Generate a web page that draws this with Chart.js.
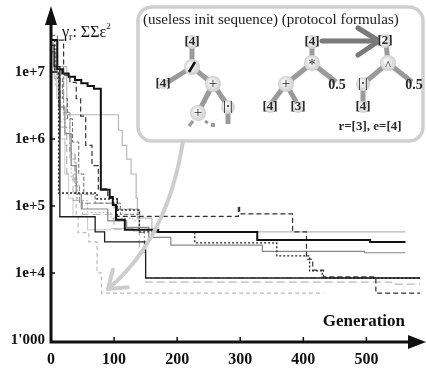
<!DOCTYPE html>
<html>
<head>
<meta charset="utf-8">
<script src="https://cdn.jsdelivr.net/npm/chart.js@4.4.1/dist/chart.umd.min.js"></script>
<style>
  html, body { margin: 0; padding: 0; background: #fff; }
  #c { display: block; }
</style>
</head>
<body>
<canvas id="c" width="426" height="370"></canvas>
<script>
// axis ticks
const generationTicks = [0, 100, 200, 300, 400, 500];
const errorTicks = [1e3, 1e4, 1e5, 1e6, 1e7];
const errorTickLabels = ["1'000", '1e+4', '1e+5', '1e+6', '1e+7'];

// runs: [generation, best fitness] – value changes at that generation
const runBlackThick = [[0, 3e7], [10, 1.1e7], [18, 9.5e6], [28, 8.5e6], [38, 7.6e6], [48, 6.8e6], [58, 6.2e6], [68, 5.6e6], [79, 1.75e5], [93, 1.36e5], [98, 1.03e5], [103, 6.2e4], [117, 4.4e4], [170, 4.1e4], [327, 3.1e4], [506, 2.9e4], [562, 2.9e4]];
const runBlack = [[0, 2.5e7], [5, 1.2e7], [14, 6.9e4], [70, 4.1e4], [85, 2.9e4], [130, 2.9e4], [149, 2.2e4], [150, 8.4e3], [585, 8.4e3]];
const runDotted = [[0, 3e7], [6, 1e7], [12, 1.56e5], [73, 1.27e5], [105, 8.7e4], [140, 4.1e4], [228, 2.8e4], [358, 1.8e4], [410, 1.07e4], [430, 8.4e3], [585, 8.4e3]];
const runDashed = [[0, 3e7], [20, 9e6], [30, 7e6], [40, 4e6], [47, 2.2e6], [55, 8e5], [65, 4e5], [75, 1.8e5], [90, 1.3e5], [105, 7e4], [297, 1.0e5], [299, 7.6e4], [383, 4.1e4], [405, 1.6e4], [415, 1.1e4], [432, 8.7e3], [515, 5e3], [585, 5e3]];
const runGray = [[0, 2e7], [6, 1e7], [12, 3e6], [22, 1.2e6], [32, 4e5], [40, 1.5e5], [48, 9e4], [90, 6e4], [120, 4.8e4], [155, 3.4e4], [190, 2.6e4], [335, 2.1e4], [497, 2.0e4], [562, 2.0e4]];
const runDashDot = [[0, 2.5e7], [8, 1e7], [20, 2.5e6], [30, 6e5], [38, 2e5], [45, 1.1e5], [100, 9e4], [140, 4e4], [148, 2.2e4], [150, 8.4e3], [585, 8.4e3]];
const runDarkDashed = [[0, 3.5e7], [10, 8e6], [18, 4e6], [26, 2e6], [34, 9e5], [44, 3e5], [52, 1.5e5], [70, 1.1e5], [110, 7.5e4], [145, 7.5e4]];
const runLightSteps = [[0, 2e7], [10, 1.2e7], [25, 2.3e6], [107, 1.35e6], [113, 8e5], [120, 5e5], [127, 3e5], [135, 1.3e5], [137, 6.6e4], [160, 4.1e4], [562, 4.1e4]];
const runLightDashed = [[0, 3e7], [10, 9e6], [20, 2e6], [30, 5e5], [40, 6.9e4], [43, 4e4], [60, 2.9e4], [73, 1e4], [80, 5e3], [432, 5e3]];
const runLongDashed = [[0, 2e7], [5, 8e6], [15, 1.5e6], [25, 3e5], [35, 1.2e5], [50, 7.5e4], [100, 4.5e4], [140, 2e4], [150, 7.3e3], [520, 7.3e3], [540, 6.8e3], [585, 6.8e3]];
const runLight = [[0, 3e7], [4, 1.2e7], [9, 4e6], [15, 1e6], [22, 3e5], [28, 1.3e5], [35, 7e4], [58, 4.4e4], [95, 4.6e4], [130, 4.2e4], [140, 4.2e4]];
const runLightDotted = [[0, 2e7], [7, 6e6], [14, 1.8e6], [22, 8e5], [32, 2.5e5], [42, 1.2e5], [58, 8e4], [95, 6.5e4], [130, 6e4], [145, 6e4]];

const SERIF = '"Liberation Serif", "DejaVu Serif", serif';

function run(points, color, width, dash) {
  return {
    data: points.map(([g, v]) => ({ x: g, y: v })),
    borderColor: color,
    borderWidth: width,
    borderDash: dash,
    stepped: true,
    pointRadius: 0,
    fill: false
  };
}

// inset with the formula trees and the callout arrow
const decoPlugin = {
  id: 'deco',
  afterDatasetsDraw(chart) {
    const ctx = chart.ctx;
    const area = chart.chartArea;
    const xs = chart.scales.x, ys = chart.scales.y;
    ctx.save();

    // axes with arrows
    ctx.strokeStyle = '#111';
    ctx.fillStyle = '#111';
    ctx.lineWidth = 3;
    ctx.beginPath();
    ctx.moveTo(area.left, area.bottom + 1.5);
    ctx.lineTo(area.left, 20);
    ctx.moveTo(area.left - 1.5, area.bottom);
    ctx.lineTo(412, area.bottom);
    ctx.stroke();
    ctx.beginPath();
    ctx.moveTo(area.left, 6); ctx.lineTo(area.left - 6, 25); ctx.lineTo(area.left + 6, 25); ctx.closePath();
    ctx.fill();
    ctx.beginPath();
    ctx.moveTo(426, area.bottom); ctx.lineTo(408, area.bottom - 7); ctx.lineTo(408, area.bottom + 7); ctx.closePath();
    ctx.fill();
    ctx.lineWidth = 1.5;
    ctx.beginPath();
    generationTicks.slice(1).forEach(v => {
      const px = xs.getPixelForValue(v);
      ctx.moveTo(px, area.bottom); ctx.lineTo(px, area.bottom - 5);
    });
    errorTicks.slice(1).forEach(v => {
      const py = ys.getPixelForValue(v);
      ctx.moveTo(area.left, py); ctx.lineTo(area.left + 4, py);
    });
    ctx.stroke();

    // axis titles
    ctx.fillStyle = '#111';
    ctx.textBaseline = 'alphabetic';
    ctx.font = 'bold 17px ' + SERIF;
    ctx.textAlign = 'right';
    ctx.fillText('Generation', 405, 326);
    ctx.textAlign = 'left';
    let tx = 62;
    const part = (t, size, dy) => {
      ctx.font = size + 'px ' + SERIF;
      ctx.fillText(t, tx, 37 + dy);
      tx += ctx.measureText(t).width;
    };
    part('γ', 16, 0); part('r', 10, 3); part(': ΣΣε', 16, 0); part('2', 9, -8);

    // inset box
    const bx = 138, by = 7, bw = 285, bh = 134, r = 14;
    ctx.beginPath();
    ctx.roundRect(bx, by, bw, bh, r);
    ctx.fillStyle = '#fff';
    ctx.fill();
    ctx.lineWidth = 3.5;
    ctx.strokeStyle = '#cfcfcf';
    ctx.stroke();

    ctx.fillStyle = '#1a1a1a';
    ctx.font = '15px ' + SERIF;
    ctx.textAlign = 'left';
    ctx.fillText('(useless init sequence) (protocol formulas)', 143, 24, 278);

    const edge = (x1, y1, x2, y2) => {
      ctx.beginPath(); ctx.moveTo(x1, y1); ctx.lineTo(x2, y2); ctx.stroke();
    };
    ctx.strokeStyle = '#9a9a9a';
    ctx.lineWidth = 5;
    ctx.lineCap = 'butt';
    // left tree
    edge(192, 45, 192, 67); edge(192, 67, 165, 84); edge(192, 67, 213, 84);
    edge(213, 84, 198, 113); edge(213, 84, 228, 106); edge(228, 112, 228, 124);
    // middle tree
    edge(312, 42, 312, 63); edge(312, 63, 286, 84); edge(312, 63, 336, 82);
    edge(286, 84, 270, 105); edge(286, 84, 298, 105);
    // right tree
    edge(386, 42, 388, 63); edge(388, 63, 363, 84); edge(388, 63, 412, 82); edge(363, 84, 363, 104);
    // continuation marks
    ctx.lineWidth = 3;
    edge(193, 121, 189, 126); edge(205, 121, 208, 123);
    ctx.fillStyle = '#9a9a9a';
    ctx.fillRect(211, 123, 4, 4);

    // big arrow [4] -> [2]
    ctx.strokeStyle = '#7a7a7a';
    ctx.lineWidth = 5;
    ctx.lineCap = 'round';
    edge(322, 41, 377, 41); edge(358, 28, 379, 41); edge(358, 55, 379, 41);

    const node = (x, y, rad) => {
      const g = ctx.createRadialGradient(x - 2, y - 2, 1, x, y, rad);
      g.addColorStop(0, '#fafafa');
      g.addColorStop(1, '#cfcfcf');
      ctx.fillStyle = g;
      ctx.beginPath(); ctx.arc(x, y, rad, 0, Math.PI * 2); ctx.fill();
    };
    [[192, 42, 7], [192, 67, 8], [213, 84, 8], [198, 113, 8], [228, 107, 7],
     [312, 42, 7], [312, 63, 8], [286, 84, 8], [298, 107, 6], [270, 107, 6],
     [385, 41, 7], [388, 63, 8], [363, 84, 7], [363, 107, 6], [163, 84, 5]].forEach(n => node(n[0], n[1], n[2]));

    ctx.fillStyle = '#2a2a2a';
    ctx.textAlign = 'center';
    ctx.textBaseline = 'middle';
    const lab = (t, x, y, size, bold) => {
      ctx.font = (bold ? 'bold ' : '') + size + 'px ' + SERIF;
      ctx.fillText(t, x, y);
    };
    lab('[4]', 192, 42, 13, true); lab('[4]', 163, 84, 13, true);
    lab('+', 213, 84, 15, false); lab('+', 198, 113, 15, false); lab('|·|', 228, 107, 12, true);
    lab('[4]', 312, 42, 13, true); lab('*', 312, 65, 14, false); lab('+', 286, 84, 15, false);
    lab('0.5', 337, 85, 14, true); lab('[4]', 270, 107, 13, true); lab('[3]', 298, 107, 13, true);
    lab('[2]', 385, 41, 13, true); lab('^', 388, 66, 12, false); lab('|·|', 363, 84, 12, true);
    lab('0.5', 414, 85, 14, true); lab('[4]', 363, 107, 13, true);
    lab('r=[3], e=[4]', 370, 127, 13, true);
    ctx.strokeStyle = '#111';
    ctx.lineWidth = 2.5;
    ctx.lineCap = 'butt';
    edge(189, 72, 195, 62);

    // callout arrow
    const p0 = [183, 141], c1 = [168, 238], p1 = [108, 289];
    ctx.strokeStyle = '#cdcdcd';
    ctx.lineWidth = 4;
    ctx.lineCap = 'round';
    ctx.beginPath();
    ctx.moveTo(p0[0], p0[1]);
    ctx.quadraticCurveTo(c1[0], c1[1], p1[0], p1[1]);
    ctx.stroke();
    const dx = c1[0] - p1[0], dy = c1[1] - p1[1], len = Math.hypot(dx, dy);
    const ux = dx / len, uy = dy / len, a = 0.62, L = 20;
    [a, -a].forEach(t => {
      const vx = ux * Math.cos(t) - uy * Math.sin(t);
      const vy = ux * Math.sin(t) + uy * Math.cos(t);
      edge(p1[0], p1[1], p1[0] + vx * L, p1[1] + vy * L);
    });

    ctx.restore();
  }
};

new Chart(document.getElementById('c'), {
  type: 'line',
  data: {
    datasets: [
      run(runBlackThick, '#111', 2, []),
      run(runBlack, '#1e1e1e', 1.3, []),
      run(runDotted, '#222', 1.3, [2, 2]),
      run(runDashed, '#333', 1.2, [5, 3]),
      run(runGray, '#888', 1.2, []),
      run(runDashDot, '#8a8a8a', 1, [6, 2, 2, 2]),
      run(runDarkDashed, '#666', 1, [4, 2]),
      run(runLightSteps, '#b8b8b8', 1.2, []),
      run(runLightDashed, '#bbb', 1.2, [4, 3]),
      run(runLongDashed, '#aaa', 1, [8, 4]),
      run(runLight, '#c8c8c8', 1, []),
      run(runLightDotted, '#bbb', 1, [2, 2])
    ]
  },
  options: {
    responsive: false,
    devicePixelRatio: 1,
    animation: false,
    layout: { padding: { top: 15, right: 6, left: 0, bottom: 0 } },
    plugins: {
      legend: { display: false },
      tooltip: { enabled: false }
    },
    scales: {
      x: {
        type: 'linear',
        min: 0,
        max: 585,
        afterBuildTicks: s => { s.ticks = generationTicks.map(v => ({ value: v })); },
        afterFit: s => { s.height = 28; },
        grid: { display: false, drawTicks: false, tickLength: 0 },
        border: { display: false },
        ticks: {
          color: '#111',
          padding: 8,
          maxRotation: 0,
          font: { family: SERIF, size: 16, weight: 'bold' }
        }
      },
      y: {
        type: 'logarithmic',
        min: 930,
        max: 7.1e7,
        afterBuildTicks: s => { s.ticks = errorTicks.map(v => ({ value: v })); },
        afterFit: s => { s.width = 51; },
        grid: { display: false, drawTicks: false, tickLength: 0 },
        border: { display: false },
        ticks: {
          color: '#111',
          padding: 6,
          font: { family: SERIF, size: 15, weight: 'bold' },
          callback: (v) => errorTickLabels[errorTicks.indexOf(v)]
        }
      }
    }
  },
  plugins: [decoPlugin]
});
</script>
</body>
</html>
